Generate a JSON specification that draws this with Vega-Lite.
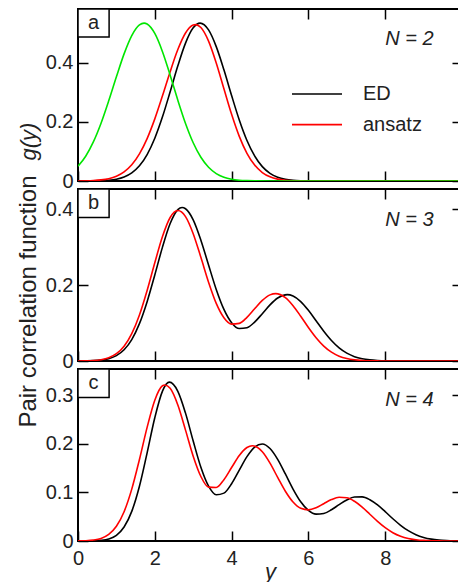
{
  "$schema": "https://vega.github.io/schema/vega-lite/v6.json",
  "background": "white",
  "padding": {"left": 15, "top": 7, "right": 0, "bottom": 0},
  "config": {
    "font": "Liberation Sans",
    "view": {"stroke": "black", "strokeWidth": 2},
    "axis": {
      "grid": false, "domain": false, "tickSize": -10, "tickWidth": 1.5, "tickColor": "black",
      "labelFontSize": 20, "labelColor": "#222", "labelFont": "Liberation Sans",
      "labelFlush": false, "labelOverlap": false, "labelBound": false,
      "titleFontSize": 22, "titleFontWeight": "normal", "titleColor": "#222", "titleFont": "Liberation Sans"
    }
  },
  "datasets": {
    "n2": [
      {"series": "ED", "y": 0, "g": 0}, {"series": "ED", "y": 0.5, "g": 0.0006}, {"series": "ED", "y": 0.8, "g": 0.0026},
      {"series": "ED", "y": 1.0, "g": 0.0062}, {"series": "ED", "y": 1.2, "g": 0.0135}, {"series": "ED", "y": 1.4, "g": 0.0273},
      {"series": "ED", "y": 1.6, "g": 0.0512}, {"series": "ED", "y": 1.8, "g": 0.0893}, {"series": "ED", "y": 2.0, "g": 0.1444},
      {"series": "ED", "y": 2.2, "g": 0.2165}, {"series": "ED", "y": 2.4, "g": 0.3012}, {"series": "ED", "y": 2.6, "g": 0.3887},
      {"series": "ED", "y": 2.8, "g": 0.4655}, {"series": "ED", "y": 3.0, "g": 0.517}, {"series": "ED", "y": 3.18, "g": 0.533},
      {"series": "ED", "y": 3.4, "g": 0.51}, {"series": "ED", "y": 3.6, "g": 0.4537}, {"series": "ED", "y": 3.8, "g": 0.3752},
      {"series": "ED", "y": 4.0, "g": 0.2885}, {"series": "ED", "y": 4.2, "g": 0.2061}, {"series": "ED", "y": 4.4, "g": 0.1369},
      {"series": "ED", "y": 4.6, "g": 0.0846}, {"series": "ED", "y": 4.8, "g": 0.0486}, {"series": "ED", "y": 5.0, "g": 0.0259},
      {"series": "ED", "y": 5.2, "g": 0.0128}, {"series": "ED", "y": 5.4, "g": 0.0059}, {"series": "ED", "y": 5.6, "g": 0.0025},
      {"series": "ED", "y": 5.8, "g": 0.001}, {"series": "ED", "y": 6.0, "g": 0.0004}, {"series": "ED", "y": 6.5, "g": 0},
      {"series": "ED", "y": 8, "g": 0}, {"series": "ED", "y": 10, "g": 0},
      {"series": "ansatz", "y": 0, "g": 0.0002}, {"series": "ansatz", "y": 0.4, "g": 0.0016}, {"series": "ansatz", "y": 0.6, "g": 0.0037},
      {"series": "ansatz", "y": 0.8, "g": 0.0079}, {"series": "ansatz", "y": 1.0, "g": 0.0161}, {"series": "ansatz", "y": 1.2, "g": 0.0308},
      {"series": "ansatz", "y": 1.4, "g": 0.0548}, {"series": "ansatz", "y": 1.6, "g": 0.0916}, {"series": "ansatz", "y": 1.8, "g": 0.1432},
      {"series": "ansatz", "y": 2.0, "g": 0.2097}, {"series": "ansatz", "y": 2.2, "g": 0.2876}, {"series": "ansatz", "y": 2.4, "g": 0.3691},
      {"series": "ansatz", "y": 2.6, "g": 0.4437}, {"series": "ansatz", "y": 2.8, "g": 0.4995}, {"series": "ansatz", "y": 3.0, "g": 0.5264},
      {"series": "ansatz", "y": 3.06, "g": 0.528}, {"series": "ansatz", "y": 3.2, "g": 0.5181}, {"series": "ansatz", "y": 3.4, "g": 0.4723},
      {"series": "ansatz", "y": 3.6, "g": 0.3985}, {"series": "ansatz", "y": 3.8, "g": 0.3114}, {"series": "ansatz", "y": 4.0, "g": 0.2252},
      {"series": "ansatz", "y": 4.2, "g": 0.1507}, {"series": "ansatz", "y": 4.4, "g": 0.0934}, {"series": "ansatz", "y": 4.6, "g": 0.0536},
      {"series": "ansatz", "y": 4.8, "g": 0.0285}, {"series": "ansatz", "y": 5.0, "g": 0.014}, {"series": "ansatz", "y": 5.2, "g": 0.0064},
      {"series": "ansatz", "y": 5.4, "g": 0.0027}, {"series": "ansatz", "y": 5.6, "g": 0.001}, {"series": "ansatz", "y": 5.8, "g": 0.0004},
      {"series": "ansatz", "y": 6.0, "g": 0.0001}, {"series": "ansatz", "y": 7, "g": 0}, {"series": "ansatz", "y": 10, "g": 0},
      {"series": "other", "y": 0, "g": 0.0498}, {"series": "other", "y": 0.2, "g": 0.0837}, {"series": "other", "y": 0.4, "g": 0.132},
      {"series": "other", "y": 0.6, "g": 0.1951}, {"series": "other", "y": 0.8, "g": 0.2706}, {"series": "other", "y": 1.0, "g": 0.3518},
      {"series": "other", "y": 1.2, "g": 0.4292}, {"series": "other", "y": 1.4, "g": 0.491}, {"series": "other", "y": 1.6, "g": 0.5269},
      {"series": "other", "y": 1.72, "g": 0.533}, {"series": "other", "y": 1.8, "g": 0.5301}, {"series": "other", "y": 2.0, "g": 0.498},
      {"series": "other", "y": 2.2, "g": 0.4366}, {"series": "other", "y": 2.4, "g": 0.3572}, {"series": "other", "y": 2.6, "g": 0.2726},
      {"series": "other", "y": 2.8, "g": 0.1942}, {"series": "other", "y": 3.0, "g": 0.129}, {"series": "other", "y": 3.2, "g": 0.0801},
      {"series": "other", "y": 3.4, "g": 0.0463}, {"series": "other", "y": 3.6, "g": 0.025}, {"series": "other", "y": 3.8, "g": 0.0126},
      {"series": "other", "y": 4.0, "g": 0.0059}, {"series": "other", "y": 4.2, "g": 0.0026}, {"series": "other", "y": 4.4, "g": 0.0011},
      {"series": "other", "y": 4.6, "g": 0.0004}, {"series": "other", "y": 5.0, "g": 0}, {"series": "other", "y": 10, "g": 0}
    ],
    "n3": [
      {"series": "ED", "y": 0, "g": 0.0001}, {"series": "ED", "y": 0.4, "g": 0.0009}, {"series": "ED", "y": 0.6, "g": 0.0024},
      {"series": "ED", "y": 0.8, "g": 0.0062}, {"series": "ED", "y": 1.0, "g": 0.0141}, {"series": "ED", "y": 1.2, "g": 0.0296},
      {"series": "ED", "y": 1.4, "g": 0.0565}, {"series": "ED", "y": 1.6, "g": 0.0985}, {"series": "ED", "y": 1.8, "g": 0.1566},
      {"series": "ED", "y": 2.0, "g": 0.2271}, {"series": "ED", "y": 2.2, "g": 0.3005}, {"series": "ED", "y": 2.4, "g": 0.3627},
      {"series": "ED", "y": 2.6, "g": 0.3994}, {"series": "ED", "y": 2.71, "g": 0.405}, {"series": "ED", "y": 2.8, "g": 0.4017},
      {"series": "ED", "y": 3.0, "g": 0.3725}, {"series": "ED", "y": 3.2, "g": 0.3189}, {"series": "ED", "y": 3.4, "g": 0.2534},
      {"series": "ED", "y": 3.6, "g": 0.1888}, {"series": "ED", "y": 3.8, "g": 0.1361}, {"series": "ED", "y": 4.0, "g": 0.1011},
      {"series": "ED", "y": 4.2, "g": 0.0856}, {"series": "ED", "y": 4.4, "g": 0.0877}, {"series": "ED", "y": 4.6, "g": 0.1027},
      {"series": "ED", "y": 4.8, "g": 0.1249}, {"series": "ED", "y": 5.0, "g": 0.1481}, {"series": "ED", "y": 5.2, "g": 0.1662},
      {"series": "ED", "y": 5.45, "g": 0.1752}, {"series": "ED", "y": 5.6, "g": 0.1715}, {"series": "ED", "y": 5.8, "g": 0.1569},
      {"series": "ED", "y": 6.0, "g": 0.1337}, {"series": "ED", "y": 6.2, "g": 0.1061}, {"series": "ED", "y": 6.4, "g": 0.0785},
      {"series": "ED", "y": 6.6, "g": 0.054}, {"series": "ED", "y": 6.8, "g": 0.0346}, {"series": "ED", "y": 7.0, "g": 0.0207},
      {"series": "ED", "y": 7.2, "g": 0.0115}, {"series": "ED", "y": 7.4, "g": 0.006}, {"series": "ED", "y": 7.6, "g": 0.0029},
      {"series": "ED", "y": 7.8, "g": 0.0013}, {"series": "ED", "y": 8.0, "g": 0.0005}, {"series": "ED", "y": 8.4, "g": 0.0001},
      {"series": "ED", "y": 9, "g": 0}, {"series": "ED", "y": 10, "g": 0},
      {"series": "ansatz", "y": 0, "g": 0.0001}, {"series": "ansatz", "y": 0.2, "g": 0.0004}, {"series": "ansatz", "y": 0.4, "g": 0.0013},
      {"series": "ansatz", "y": 0.6, "g": 0.0035}, {"series": "ansatz", "y": 0.8, "g": 0.0086}, {"series": "ansatz", "y": 1.0, "g": 0.0192},
      {"series": "ansatz", "y": 1.2, "g": 0.039}, {"series": "ansatz", "y": 1.4, "g": 0.0722}, {"series": "ansatz", "y": 1.6, "g": 0.1216},
      {"series": "ansatz", "y": 1.8, "g": 0.1862}, {"series": "ansatz", "y": 2.0, "g": 0.2593}, {"series": "ansatz", "y": 2.2, "g": 0.3285},
      {"series": "ansatz", "y": 2.4, "g": 0.3787}, {"series": "ansatz", "y": 2.6, "g": 0.397}, {"series": "ansatz", "y": 2.8, "g": 0.3811},
      {"series": "ansatz", "y": 3.0, "g": 0.336}, {"series": "ansatz", "y": 3.2, "g": 0.2735}, {"series": "ansatz", "y": 3.4, "g": 0.208},
      {"series": "ansatz", "y": 3.6, "g": 0.1521}, {"series": "ansatz", "y": 3.8, "g": 0.1143}, {"series": "ansatz", "y": 4.0, "g": 0.0973},
      {"series": "ansatz", "y": 4.2, "g": 0.0992}, {"series": "ansatz", "y": 4.4, "g": 0.1152}, {"series": "ansatz", "y": 4.6, "g": 0.1379},
      {"series": "ansatz", "y": 4.8, "g": 0.1598}, {"series": "ansatz", "y": 5.0, "g": 0.1745}, {"series": "ansatz", "y": 5.15, "g": 0.1778},
      {"series": "ansatz", "y": 5.4, "g": 0.1671}, {"series": "ansatz", "y": 5.6, "g": 0.146}, {"series": "ansatz", "y": 5.8, "g": 0.1181},
      {"series": "ansatz", "y": 6.0, "g": 0.0884}, {"series": "ansatz", "y": 6.2, "g": 0.0613}, {"series": "ansatz", "y": 6.4, "g": 0.0393},
      {"series": "ansatz", "y": 6.6, "g": 0.0234}, {"series": "ansatz", "y": 6.8, "g": 0.0128}, {"series": "ansatz", "y": 7.0, "g": 0.0065},
      {"series": "ansatz", "y": 7.2, "g": 0.0031}, {"series": "ansatz", "y": 7.4, "g": 0.0013}, {"series": "ansatz", "y": 7.6, "g": 0.0005},
      {"series": "ansatz", "y": 7.8, "g": 0.0002}, {"series": "ansatz", "y": 8, "g": 0}, {"series": "ansatz", "y": 10, "g": 0}
    ],
    "n4": [
      {"series": "ED", "y": 0, "g": 0}, {"series": "ED", "y": 0.4, "g": 0.0003}, {"series": "ED", "y": 0.6, "g": 0.0013},
      {"series": "ED", "y": 0.8, "g": 0.0042}, {"series": "ED", "y": 1.0, "g": 0.0117}, {"series": "ED", "y": 1.2, "g": 0.0287},
      {"series": "ED", "y": 1.4, "g": 0.0609}, {"series": "ED", "y": 1.6, "g": 0.1126}, {"series": "ED", "y": 1.8, "g": 0.1812},
      {"series": "ED", "y": 2.0, "g": 0.2533}, {"series": "ED", "y": 2.2, "g": 0.3081}, {"series": "ED", "y": 2.38, "g": 0.3265},
      {"series": "ED", "y": 2.6, "g": 0.3077}, {"series": "ED", "y": 2.8, "g": 0.2628}, {"series": "ED", "y": 3.0, "g": 0.2055},
      {"series": "ED", "y": 3.2, "g": 0.1515}, {"series": "ED", "y": 3.4, "g": 0.1127}, {"series": "ED", "y": 3.6, "g": 0.0951},
      {"series": "ED", "y": 3.8, "g": 0.0984}, {"series": "ED", "y": 4.0, "g": 0.1177}, {"series": "ED", "y": 4.2, "g": 0.1456},
      {"series": "ED", "y": 4.4, "g": 0.1733}, {"series": "ED", "y": 4.6, "g": 0.193}, {"series": "ED", "y": 4.8, "g": 0.1995},
      {"series": "ED", "y": 5.0, "g": 0.1902}, {"series": "ED", "y": 5.2, "g": 0.1679}, {"series": "ED", "y": 5.4, "g": 0.1378},
      {"series": "ED", "y": 5.6, "g": 0.1068}, {"series": "ED", "y": 5.8, "g": 0.0805}, {"series": "ED", "y": 6.0, "g": 0.0629},
      {"series": "ED", "y": 6.2, "g": 0.0552}, {"series": "ED", "y": 6.4, "g": 0.0566}, {"series": "ED", "y": 6.6, "g": 0.0642},
      {"series": "ED", "y": 6.8, "g": 0.0747}, {"series": "ED", "y": 7.0, "g": 0.0844}, {"series": "ED", "y": 7.2, "g": 0.0903},
      {"series": "ED", "y": 7.4, "g": 0.0907}, {"series": "ED", "y": 7.6, "g": 0.0849}, {"series": "ED", "y": 7.8, "g": 0.0741},
      {"series": "ED", "y": 8.0, "g": 0.0603}, {"series": "ED", "y": 8.2, "g": 0.0457}, {"series": "ED", "y": 8.4, "g": 0.0323},
      {"series": "ED", "y": 8.6, "g": 0.0212}, {"series": "ED", "y": 8.8, "g": 0.013}, {"series": "ED", "y": 9.0, "g": 0.0074},
      {"series": "ED", "y": 9.2, "g": 0.0039}, {"series": "ED", "y": 9.4, "g": 0.0019}, {"series": "ED", "y": 9.6, "g": 0.0009},
      {"series": "ED", "y": 9.8, "g": 0.0004}, {"series": "ED", "y": 10, "g": 0.0002},
      {"series": "ansatz", "y": 0, "g": 0.0002}, {"series": "ansatz", "y": 0.2, "g": 0.0006}, {"series": "ansatz", "y": 0.4, "g": 0.0019},
      {"series": "ansatz", "y": 0.6, "g": 0.0053}, {"series": "ansatz", "y": 0.8, "g": 0.0135}, {"series": "ansatz", "y": 1.0, "g": 0.0302},
      {"series": "ansatz", "y": 1.2, "g": 0.0602}, {"series": "ansatz", "y": 1.4, "g": 0.1066}, {"series": "ansatz", "y": 1.6, "g": 0.1675},
      {"series": "ansatz", "y": 1.8, "g": 0.2336}, {"series": "ansatz", "y": 2.0, "g": 0.2894}, {"series": "ansatz", "y": 2.2, "g": 0.319},
      {"series": "ansatz", "y": 2.26, "g": 0.3205}, {"series": "ansatz", "y": 2.4, "g": 0.3137}, {"series": "ansatz", "y": 2.6, "g": 0.2795},
      {"series": "ansatz", "y": 2.8, "g": 0.2279}, {"series": "ansatz", "y": 3.0, "g": 0.1743}, {"series": "ansatz", "y": 3.2, "g": 0.1326},
      {"series": "ansatz", "y": 3.4, "g": 0.1108}, {"series": "ansatz", "y": 3.6, "g": 0.1101}, {"series": "ansatz", "y": 3.8, "g": 0.1261},
      {"series": "ansatz", "y": 4.0, "g": 0.151}, {"series": "ansatz", "y": 4.2, "g": 0.1757}, {"series": "ansatz", "y": 4.4, "g": 0.1921},
      {"series": "ansatz", "y": 4.54, "g": 0.1958}, {"series": "ansatz", "y": 4.8, "g": 0.1833}, {"series": "ansatz", "y": 5.0, "g": 0.16},
      {"series": "ansatz", "y": 5.2, "g": 0.1307}, {"series": "ansatz", "y": 5.4, "g": 0.1022}, {"series": "ansatz", "y": 5.6, "g": 0.08},
      {"series": "ansatz", "y": 5.8, "g": 0.0671}, {"series": "ansatz", "y": 6.0, "g": 0.0639}, {"series": "ansatz", "y": 6.2, "g": 0.0682},
      {"series": "ansatz", "y": 6.4, "g": 0.0767}, {"series": "ansatz", "y": 6.6, "g": 0.0851}, {"series": "ansatz", "y": 6.8, "g": 0.0899},
      {"series": "ansatz", "y": 7.0, "g": 0.0889}, {"series": "ansatz", "y": 7.2, "g": 0.0816}, {"series": "ansatz", "y": 7.4, "g": 0.0696},
      {"series": "ansatz", "y": 7.6, "g": 0.055}, {"series": "ansatz", "y": 7.8, "g": 0.0403}, {"series": "ansatz", "y": 8.0, "g": 0.0273},
      {"series": "ansatz", "y": 8.2, "g": 0.0171}, {"series": "ansatz", "y": 8.4, "g": 0.0099}, {"series": "ansatz", "y": 8.6, "g": 0.0053},
      {"series": "ansatz", "y": 8.8, "g": 0.0027}, {"series": "ansatz", "y": 9.0, "g": 0.0012}, {"series": "ansatz", "y": 9.2, "g": 0.0005},
      {"series": "ansatz", "y": 9.4, "g": 0.0002}, {"series": "ansatz", "y": 9.6, "g": 0.0001}, {"series": "ansatz", "y": 10, "g": 0}
    ]
  },
  "bounds": "flush",
  "spacing": 8,
  "resolve": {"scale": {"color": "independent"}, "legend": {"color": "independent"}},
  "vconcat": [
    {
      "width": 384, "height": 172,
      "data": {"name": "n2"},
      "resolve": {"axis": {"x": "independent", "y": "independent"}},
      "layer": [
        {
          "mark": {"type": "line", "strokeWidth": 1.6, "interpolate": "monotone", "clip": true},
          "encoding": {
            "x": {"field": "y", "type": "quantitative", "scale": {"domain": [0, 10], "nice": false},
                  "axis": {"orient": "bottom", "values": [0, 2, 4, 6, 8], "labels": false, "title": null}},
            "y": {"field": "g", "type": "quantitative", "scale": {"domain": [0, 0.5806], "nice": false},
                  "axis": {"orient": "left", "values": [0, 0.2, 0.4], "format": ".1~f", "labelPadding": 15,
                           "title": "g(y)", "titleFontStyle": "italic", "titleFontSize": 22, "titleAngle": 270,
                           "titleX": -42.5, "titleY": 132, "titleAlign": "center", "titleBaseline": "alphabetic"}},
            "color": {"field": "series", "type": "nominal",
                      "scale": {"domain": ["ED", "ansatz", "other"], "range": ["#000000", "#ff0000", "#00e600"]},
                      "legend": {"values": ["ED", "ansatz"], "orient": "none", "legendX": 213, "legendY": 73, "title": null,
                                 "symbolType": "stroke", "symbolSize": 2500, "symbolStrokeWidth": 1.6,
                                 "labelFontSize": 20, "labelColor": "#222", "labelFont": "Liberation Sans", "labelOffset": 20,
                                 "clipHeight": 24, "rowPadding": 6.6}}
          }
        },
        {
          "data": {"values": [{"label": "a"}]},
          "mark": {"type": "rect", "fill": "white", "stroke": "black", "strokeWidth": 1.5},
          "encoding": {
            "x": {"datum": 0, "type": "quantitative", "axis": null}, "x2": {"datum": 0.81},
            "y": {"datum": 0.5806, "type": "quantitative", "axis": null}, "y2": {"datum": 0.4859}
          }
        },
        {
          "data": {"values": [{"label": "a"}]},
          "mark": {"type": "text", "fontSize": 20, "color": "#222", "align": "center", "baseline": "middle"},
          "encoding": {
            "x": {"datum": 0.405, "type": "quantitative", "axis": null},
            "y": {"datum": 0.5333, "type": "quantitative", "axis": null},
            "text": {"field": "label"}
          }
        },
        {
          "data": {"values": [{"label": "N = 2"}]},
          "mark": {"type": "text", "fontSize": 20, "fontStyle": "italic", "color": "#222", "align": "center", "baseline": "middle"},
          "encoding": {
            "x": {"datum": 8.63, "type": "quantitative", "scale": {"domain": [0, 10], "nice": false},
                  "axis": {"orient": "top", "values": [0, 2, 4, 6, 8], "labels": false, "title": null}},
            "y": {"datum": 0.4803, "type": "quantitative", "scale": {"domain": [0, 0.5806], "nice": false},
                  "axis": {"orient": "right", "values": [0, 0.2, 0.4], "labels": false, "title": null}},
            "text": {"field": "label"}
          }
        }
      ]
    },
    {
      "width": 384, "height": 172,
      "data": {"name": "n3"},
      "resolve": {"axis": {"x": "independent", "y": "independent"}},
      "layer": [
        {
          "mark": {"type": "line", "strokeWidth": 1.6, "interpolate": "monotone", "clip": true},
          "encoding": {
            "x": {"field": "y", "type": "quantitative", "scale": {"domain": [0, 10], "nice": false},
                  "axis": {"orient": "bottom", "values": [0, 2, 4, 6, 8], "labels": false, "title": null}},
            "y": {"field": "g", "type": "quantitative", "scale": {"domain": [0, 0.4539], "nice": false},
                  "axis": {"orient": "left", "values": [0, 0.2, 0.4], "format": ".1~f", "labelPadding": 15,
                           "title": "Pair correlation function", "titleFontSize": 24, "titleAngle": 270,
                           "titleX": -42.5, "titleY": 112, "titleAlign": "center", "titleBaseline": "alphabetic"}},
            "color": {"field": "series", "type": "nominal",
                      "scale": {"domain": ["ED", "ansatz", "other"], "range": ["#000000", "#ff0000", "#00e600"]},
                      "legend": null}
          }
        },
        {
          "data": {"values": [{"label": "b"}]},
          "mark": {"type": "rect", "fill": "white", "stroke": "black", "strokeWidth": 1.5},
          "encoding": {
            "x": {"datum": 0, "type": "quantitative", "axis": null}, "x2": {"datum": 0.81},
            "y": {"datum": 0.4539, "type": "quantitative", "axis": null}, "y2": {"datum": 0.379}
          }
        },
        {
          "data": {"values": [{"label": "b"}]},
          "mark": {"type": "text", "fontSize": 20, "color": "#222", "align": "center", "baseline": "middle"},
          "encoding": {
            "x": {"datum": 0.405, "type": "quantitative", "axis": null},
            "y": {"datum": 0.4164, "type": "quantitative", "axis": null},
            "text": {"field": "label"}
          }
        },
        {
          "data": {"values": [{"label": "N = 3"}]},
          "mark": {"type": "text", "fontSize": 20, "fontStyle": "italic", "color": "#222", "align": "center", "baseline": "middle"},
          "encoding": {
            "x": {"datum": 8.63, "type": "quantitative", "scale": {"domain": [0, 10], "nice": false},
                  "axis": {"orient": "top", "values": [0, 2, 4, 6, 8], "labels": false, "title": null}},
            "y": {"datum": 0.3729, "type": "quantitative", "scale": {"domain": [0, 0.4539], "nice": false},
                  "axis": {"orient": "right", "values": [0, 0.2, 0.4], "labels": false, "title": null}},
            "text": {"field": "label"}
          }
        }
      ]
    },
    {
      "width": 384, "height": 172,
      "data": {"name": "n4"},
      "resolve": {"axis": {"x": "independent", "y": "independent"}},
      "layer": [
        {
          "mark": {"type": "line", "strokeWidth": 1.6, "interpolate": "monotone", "clip": true},
          "encoding": {
            "x": {"field": "y", "type": "quantitative", "scale": {"domain": [0, 10], "nice": false},
                  "axis": {"orient": "bottom", "values": [0, 2, 4, 6, 8], "labelPadding": 17,
                           "title": "y", "titleFontStyle": "italic", "titleFontSize": 22,
                           "titleY": 37, "titleBaseline": "alphabetic"}},
            "y": {"field": "g", "type": "quantitative", "scale": {"domain": [0, 0.3535], "nice": false},
                  "axis": {"orient": "left", "values": [0, 0.1, 0.2, 0.3], "format": ".1~f", "labelPadding": 15, "title": null}},
            "color": {"field": "series", "type": "nominal",
                      "scale": {"domain": ["ED", "ansatz", "other"], "range": ["#000000", "#ff0000", "#00e600"]},
                      "legend": null}
          }
        },
        {
          "data": {"values": [{"label": "c"}]},
          "mark": {"type": "rect", "fill": "white", "stroke": "black", "strokeWidth": 1.5},
          "encoding": {
            "x": {"datum": 0, "type": "quantitative", "axis": null}, "x2": {"datum": 0.81},
            "y": {"datum": 0.3535, "type": "quantitative", "axis": null}, "y2": {"datum": 0.2951}
          }
        },
        {
          "data": {"values": [{"label": "c"}]},
          "mark": {"type": "text", "fontSize": 20, "color": "#222", "align": "center", "baseline": "middle"},
          "encoding": {
            "x": {"datum": 0.405, "type": "quantitative", "axis": null},
            "y": {"datum": 0.3243, "type": "quantitative", "axis": null},
            "text": {"field": "label"}
          }
        },
        {
          "data": {"values": [{"label": "N = 4"}]},
          "mark": {"type": "text", "fontSize": 20, "fontStyle": "italic", "color": "#222", "align": "center", "baseline": "middle"},
          "encoding": {
            "x": {"datum": 8.63, "type": "quantitative", "scale": {"domain": [0, 10], "nice": false},
                  "axis": {"orient": "top", "values": [0, 2, 4, 6, 8], "labels": false, "title": null}},
            "y": {"datum": 0.289, "type": "quantitative", "scale": {"domain": [0, 0.3535], "nice": false},
                  "axis": {"orient": "right", "values": [0, 0.1, 0.2, 0.3], "labels": false, "title": null}},
            "text": {"field": "label"}
          }
        }
      ]
    }
  ]
}
